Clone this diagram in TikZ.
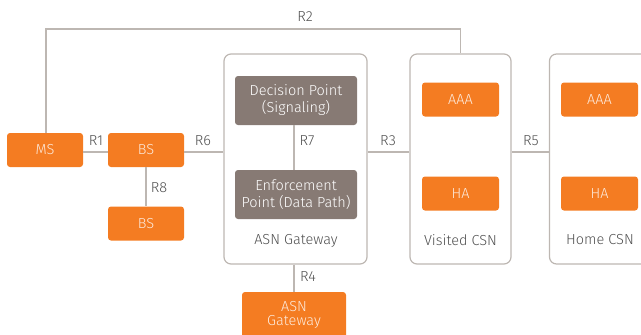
\documentclass[tikz,border=0pt]{standalone}
\usepackage{fontspec}
\setmainfont{Fira Sans Light}
\definecolor{org}{HTML}{F47C22}
\definecolor{dgray}{HTML}{877A74}
\definecolor{bgray}{HTML}{BDB7B2}
\definecolor{tgray}{HTML}{505050}
\definecolor{otext}{HTML}{FDEBDD}
\tikzset{
  orangebox/.style={fill=org, rounded corners=3pt, text=otext, inner sep=0pt, align=center,
    minimum width=76pt, minimum height=34pt, font=\fontsize{14.5}{16}\selectfont},
  graybox/.style={fill=dgray, rounded corners=3pt, text=white, inner sep=0pt, align=center,
    minimum width=122pt, minimum height=49pt, font=\fontsize{14.5}{17}\selectfont},
  container/.style={draw=bgray, line width=1.2pt, rounded corners=7pt, inner sep=0pt,
    minimum height=210pt},
  conn/.style={draw=bgray, line width=1.2pt},
  lbl/.style={text=tgray, inner sep=0pt, font=\fontsize{14.5}{16}\selectfont},
}
\begin{document}
\begin{tikzpicture}[x=1pt,y=-1pt]
\useasboundingbox (0,0) rectangle (641,335);
\clip (0,0) rectangle (641,335);
% containers
\node[container, minimum width=143pt] (asn) at (295.5,159) {};
\node[container, minimum width=101pt] (vis) at (460.5,159) {};
\node[container, minimum width=101pt] (home) at (600,159) {};
% orange boxes
\node[orangebox] (ms) at (45,150) {MS};
\node[orangebox] (bs1) at (146,150) {BS};
\node[orangebox] (bs2) at (146,223.5) {BS};
\node[orangebox, minimum width=77pt] (vaaa) at (460.5,99.5) {AAA};
\node[orangebox, minimum width=77pt] (vha) at (460.5,193.5) {HA};
\node[orangebox, minimum width=77pt] (haaa) at (599.5,99.5) {AAA};
\node[orangebox, minimum width=77pt] (hha) at (599.5,193.5) {HA};
\node[orangebox, minimum width=104pt, minimum height=46pt, font=\fontsize{14.5}{14.5}\selectfont] (agw) at (294,315) {ASN\\Gateway};
% gray boxes
\node[graybox] (dp) at (296,100.5) {Decision Point\\(Signaling)};
\node[graybox] (ep) at (296,194.5) {Enforcement\\Point (Data Path)};
% container labels
\node[lbl] (asnl) at (296,241) {ASN Gateway};
\node[lbl] (visl) at (460.5,240) {Visited CSN};
\node[lbl] (homel) at (600,240) {Home CSN};
% connectors
\draw[conn] (ms.east |- 0,152) -- (bs1.west |- 0,152);
\draw[conn] (bs1.east |- 0,152) -- (asn.west |- 0,152);
\draw[conn] (asn.east |- 0,152) -- (vis.west |- 0,152);
\draw[conn] (vis.east |- 0,152) -- (home.west |- 0,152);
\draw[conn] (bs1.south) -- (bs2.north);
\draw[conn] (dp.south -| 294,0) -- (ep.north -| 294,0);
\draw[conn] (asn.south -| 294,0) -- (agw.north -| 294,0);
\draw[conn] (ms.north -| 46,0) -- (46,29) -| (vis.north);
% connector labels
\node[lbl] (r1) at (96,141) {R1};
\node[lbl] (r6) at (203,141) {R6};
\node[lbl] (r7) at (307,141) {R7};
\node[lbl] (r3) at (388,141) {R3};
\node[lbl] (r5) at (531,141) {R5};
\node[lbl] (r8) at (159,188) {R8};
\node[lbl] (r4) at (308,277) {R4};
\node[lbl] (r2) at (305,17) {R2};
\end{tikzpicture}
\end{document}
